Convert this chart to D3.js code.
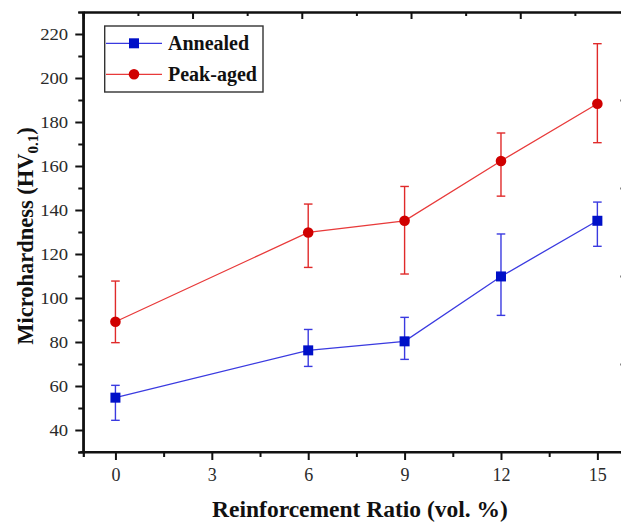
<!DOCTYPE html>
<html>
<head>
<meta charset="utf-8">
<script src="https://cdn.jsdelivr.net/npm/d3@7"></script>
<style>
  html, body { margin: 0; padding: 0; background: #fff; }
  svg { display: block; }
  text { font-family: "Liberation Serif", "Times New Roman", serif; }
</style>
</head>
<body>
<svg id="chart" width="621" height="522"></svg>
<script>
// Reinforcement ratio (vol. %)
const ratios = [0, 6, 9, 12, 15];

// Microhardness (HV0.1) means and error-bar limits
const annealed      = [54.7, 76.2, 80.3, 109.8, 135.1];
const annealedHigh  = [60.3, 85.7, 91.2, 129.1, 143.6];
const annealedLow   = [44.4, 68.9, 72.1, 92.1, 123.5];

const peakAged      = [89.2, 129.8, 135.1, 162.3, 188.3];
const peakAgedHigh  = [107.7, 142.7, 150.7, 175.0, 215.6];
const peakAgedLow   = [79.7, 113.9, 110.9, 146.3, 170.6];

const xTicks = [0, 3, 6, 9, 12, 15];
const yTicks = [40, 60, 80, 100, 120, 140, 160, 180, 200, 220];

const seriesNames = ["Annealed", "Peak-aged"];

const svg = d3.select("#chart");
const plotLeft = 83.3, plotRight = 629.5, plotTop = 12, plotBottom = 452;

const x = d3.scaleLinear().domain([-1, 16]).range([plotLeft, plotRight]);
const y = d3.scaleLinear().domain([30, 230]).range([plotBottom, plotTop]);
// Frame axes on top/right carry their own evenly split ticks
const xTop = d3.scaleLinear().domain([0, 5]).range([plotLeft, plotRight]);
const yRight = d3.scaleLinear().domain([0, 5]).range([plotBottom, plotTop]);

const axisColor = "#111";
const labelColor = "#2a2a2a";

function styleAxis(g) {
  g.selectAll("path.domain").attr("stroke", axisColor).attr("stroke-width", 2.2);
  g.selectAll("line").attr("stroke", axisColor).attr("stroke-width", 2);
  g.selectAll("text").attr("fill", labelColor);
}

// minor ticks
const xMinor = d3.range(-1.5, 16.1, 1.5).filter(v => v >= -1 && v <= 16 && !xTicks.includes(v));
const yMinor = d3.range(30, 231, 10).filter(v => !yTicks.includes(v));

svg.append("g").attr("transform", `translate(0,${plotBottom})`)
  .call(d3.axisBottom(x).tickValues(xMinor).tickSize(5).tickFormat(""))
  .call(styleAxis);
svg.append("g").attr("transform", `translate(${plotLeft},0)`)
  .call(d3.axisLeft(y).tickValues(yMinor).tickSize(5).tickFormat(""))
  .call(styleAxis);
svg.append("g").attr("transform", `translate(0,${plotTop})`)
  .call(d3.axisBottom(xTop).tickValues(d3.range(0.5, 5, 1)).tickSize(4).tickFormat(""))
  .call(styleAxis);
svg.append("g").attr("transform", `translate(${plotRight},0)`)
  .call(d3.axisLeft(yRight).tickValues(d3.range(0.5, 5, 1)).tickSize(5).tickFormat(""))
  .call(styleAxis);

// major ticks and labels
const xAxisG = svg.append("g").attr("transform", `translate(0,${plotBottom})`)
  .call(d3.axisBottom(x).tickValues(xTicks).tickSize(8).tickPadding(8).tickSizeOuter(0))
  .call(styleAxis);
xAxisG.selectAll("text").attr("font-size", 18).attr("font-family", "Liberation Serif");
xAxisG.select("path.domain").attr("d", `M${plotLeft - 3},0H${plotRight}`);

const yAxisG = svg.append("g").attr("transform", `translate(${plotLeft},0)`)
  .call(d3.axisLeft(y).tickValues(yTicks).tickSize(8).tickPadding(6).tickSizeOuter(0))
  .call(styleAxis);
yAxisG.selectAll("text").attr("font-size", 17).attr("font-family", "Liberation Serif")
  .attr("transform", "scale(1.1,1)").attr("x", -14 / 1.1 - 1);
yAxisG.select("path.domain").attr("d", `M0,${plotBottom + 1}V${plotTop}`);

svg.append("g").attr("transform", `translate(0,${plotTop})`)
  .call(d3.axisBottom(xTop).tickValues(d3.range(0, 6, 1)).tickSize(7).tickFormat("").tickSizeOuter(0))
  .call(styleAxis);
svg.append("g").attr("transform", `translate(${plotRight},0)`)
  .call(d3.axisLeft(yRight).tickValues(d3.range(0, 6, 1)).tickSize(9).tickFormat("").tickSizeOuter(0))
  .call(styleAxis);

// series
const series = [
  { name: seriesNames[0], v: annealed, hi: annealedHigh, lo: annealedLow,
    line: "#3a3ae0", err: "#3a3ae0", fill: "#0010c8", shape: "square" },
  { name: seriesNames[1], v: peakAged, hi: peakAgedHigh, lo: peakAgedLow,
    line: "#e83a3a", err: "#e02a2a", fill: "#d00000", shape: "circle" }
];

const line = d3.line().x(d => x(d[0])).y(d => y(d[1]));

function drawMarker(g, shape, cx, cy, fill) {
  if (shape === "square") {
    g.append("rect").attr("x", cx - 5).attr("y", cy - 5).attr("width", 10).attr("height", 10)
      .attr("fill", fill);
  } else {
    g.append("circle").attr("cx", cx).attr("cy", cy).attr("r", 5.3).attr("fill", fill);
  }
}

series.forEach(s => {
  const g = svg.append("g");
  const pts = ratios.map((r, i) => [r, s.v[i]]);
  g.append("path").attr("d", line(pts)).attr("fill", "none")
    .attr("stroke", s.line).attr("stroke-width", 1.3);
  ratios.forEach((r, i) => {
    const cx = x(r);
    g.append("line").attr("x1", cx).attr("x2", cx).attr("y1", y(s.hi[i])).attr("y2", y(s.lo[i]))
      .attr("stroke", s.err).attr("stroke-width", 1.4);
    [s.hi[i], s.lo[i]].forEach(v => {
      g.append("line").attr("x1", cx - 4.3).attr("x2", cx + 4.3).attr("y1", y(v)).attr("y2", y(v))
        .attr("stroke", s.err).attr("stroke-width", 1.4);
    });
    drawMarker(g, s.shape, cx, y(s.v[i]), s.fill);
  });
});

// legend
const lg = svg.append("g");
lg.append("rect").attr("x", 104.7).attr("y", 26).attr("width", 158.3).attr("height", 66)
  .attr("fill", "#fff").attr("stroke", "#333").attr("stroke-width", 1.4);
series.forEach((s, i) => {
  const ly = 43.3 + i * 31;
  lg.append("line").attr("x1", 106).attr("x2", 162).attr("y1", ly).attr("y2", ly)
    .attr("stroke", s.line).attr("stroke-width", 1.3);
  drawMarker(lg, s.shape, 134, ly, s.fill);
  lg.append("text").attr("x", 168).attr("y", ly + 6.8).attr("font-size", 20)
    .attr("font-weight", "bold").attr("fill", "#111").text(s.name);
});

// axis titles
svg.append("text").attr("x", 360).attr("y", 517).attr("text-anchor", "middle")
  .attr("font-size", 23.5).attr("font-weight", "bold").attr("fill", "#111")
  .text("Reinforcement Ratio (vol. %)");

const yt = svg.append("text").attr("transform", "translate(33,236) rotate(-90)")
  .attr("text-anchor", "middle").attr("font-size", 22.5).attr("font-weight", "bold").attr("fill", "#111");
yt.append("tspan").text("Microhardness (HV");
yt.append("tspan").attr("font-size", 15).attr("dy", 5).text("0.1");
yt.append("tspan").attr("dy", -5).text(")");
</script>
</body>
</html>
